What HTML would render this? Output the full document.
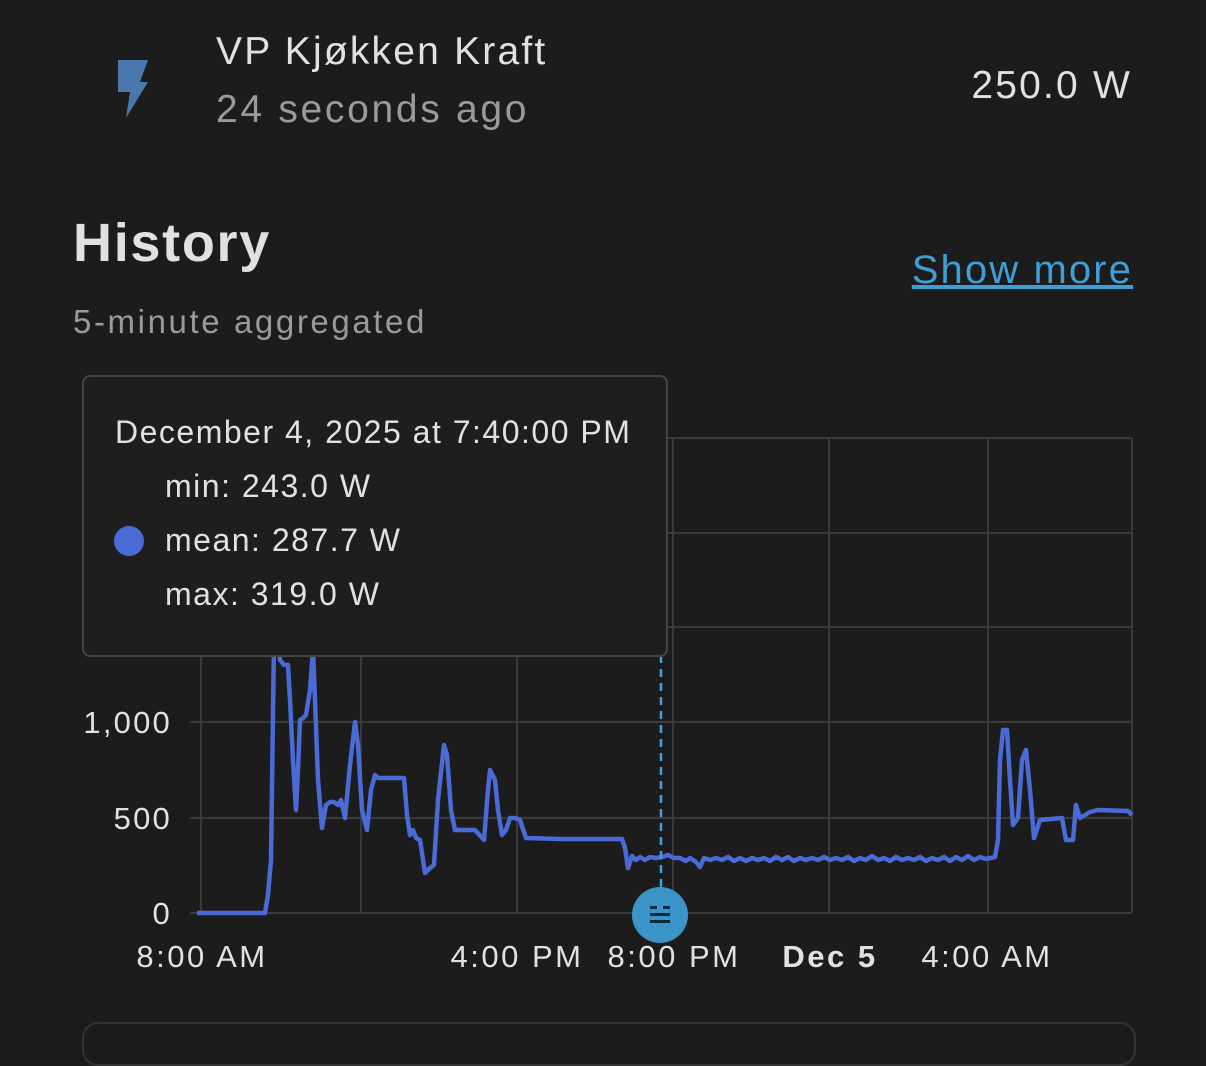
<!DOCTYPE html>
<html><head><meta charset="utf-8"><style>
body{margin:0;width:1206px;height:1030px;background:#1c1c1c;overflow:hidden;font-family:"Liberation Sans",sans-serif;position:relative}
.t{position:absolute;white-space:nowrap}
</style></head><body>
<svg class="t" style="left:112px;top:58px" width="40" height="62" viewBox="0 0 40 62"><polygon points="6,2 36,2 28,24 36,24 14,60 18,34 6,34" fill="#4a78ad"/></svg>
<div class="t" style="left:216px;top:30px;font-size:39px;color:#e1e1e1;letter-spacing:2.2px">VP Kjøkken Kraft</div>
<div class="t" style="left:216px;top:88px;font-size:39px;color:#9a9a9a;letter-spacing:2.7px">24 seconds ago</div>
<div class="t" style="right:74px;top:64px;font-size:39px;color:#e1e1e1;letter-spacing:2.2px">250.0 W</div>
<div class="t" style="left:73px;top:212px;font-size:54px;font-weight:bold;color:#e1e1e1;letter-spacing:1.7px">History</div>
<div class="t" style="right:73px;top:248px;font-size:40px;color:#3e9fd6;text-decoration:underline;letter-spacing:2.1px">Show more</div>
<div class="t" style="left:73px;top:303px;font-size:33px;color:#9a9a9a;letter-spacing:2.6px">5-minute aggregated</div>
<svg class="t" style="left:0;top:0" width="1206" height="1030">
<g stroke="#3a3a3a" stroke-width="2">
<line x1="190" y1="438" x2="1132" y2="438"/><line x1="190" y1="533" x2="1132" y2="533"/><line x1="190" y1="627" x2="1132" y2="627"/><line x1="190" y1="722" x2="1132" y2="722"/><line x1="190" y1="818" x2="1132" y2="818"/><line x1="190" y1="913" x2="1132" y2="913"/>
<line x1="201" y1="438" x2="201" y2="913"/><line x1="361" y1="438" x2="361" y2="913"/><line x1="517" y1="438" x2="517" y2="913"/><line x1="673" y1="438" x2="673" y2="913"/><line x1="829" y1="438" x2="829" y2="913"/><line x1="988" y1="438" x2="988" y2="913"/><line x1="1132" y1="438" x2="1132" y2="913"/>
</g>
<g font-size="31" fill="#e1e1e1" text-anchor="end" letter-spacing="2.2"><text x="172" y="733">1,000</text><text x="172" y="829">500</text><text x="172" y="924">0</text></g>
<g font-size="31" fill="#e1e1e1" text-anchor="middle" letter-spacing="2.5"><text x="202" y="967">8:00 AM</text><text x="517" y="967">4:00 PM</text><text x="674" y="967">8:00 PM</text><text x="830" y="967" font-weight="bold">Dec 5</text><text x="987" y="967">4:00 AM</text></g>
<polyline fill="none" stroke="#4a6ad6" stroke-width="4.5" stroke-linejoin="round" points="197,913 265,913 268,895 271,860 274,640 278,630 280,660 284,665 288,665 290,700 293,760 296,810 298,770 300,720 303,718 306,715 310,690 313,650 315,700 318,780 322,828 326,805 330,802 334,802 338,805 341,800 345,818 350,765 355,722 358,745 362,810 367,830 371,790 375,775 378,778 390,778 404,778 407,815 410,835 413,830 416,838 420,840 425,873 430,868 434,865 438,800 444,745 447,755 451,810 455,830 475,830 484,840 488,790 490,770 495,780 498,810 502,835 506,830 510,818 515,818 520,820 526,838 560,839 622,839 625,848 628,868 632,856 636,860 640,857 645,860 650,857 656,858 662,857 668,855 674,858 680,858 686,861 690,858 696,862 700,867 704,858 710,860 716,858 722,860 728,857 734,861 740,858 746,861 752,858 758,860 764,858 770,861 776,857 782,860 788,857 794,861 800,858 806,860 812,858 818,860 824,857 830,860 836,858 842,860 848,857 854,861 860,858 866,860 872,856 878,860 884,858 890,861 896,857 902,860 908,858 914,860 920,857 926,861 932,858 938,860 944,857 950,861 956,857 962,860 968,856 974,860 980,857 986,859 995,857 998,840 1000,760 1003,730 1007,730 1010,780 1013,825 1018,818 1022,760 1026,750 1030,790 1034,838 1040,820 1062,818 1066,840 1073,840 1076,805 1080,818 1090,812 1098,810 1128,811 1132,815"/>
<line x1="661" y1="655" x2="661" y2="892" stroke="#3fa0dc" stroke-width="2.5" stroke-dasharray="8,6"/>
<circle cx="660" cy="915" r="28" fill="#3a94c8"/>
<g fill="#102a3a"><rect x="650" y="906" width="7" height="3"/><rect x="663" y="906" width="7" height="3"/><rect x="650" y="913" width="20" height="3"/><rect x="650" y="920" width="20" height="3"/></g>
</svg>
<div class="t" style="left:82px;top:375px;width:582px;height:278px;background:#1e1e1e;border:2px solid #444;border-radius:8px"></div>
<div class="t" style="left:115px;top:414px;font-size:32px;color:#e1e1e1;letter-spacing:1.5px">December 4, 2025 at 7:40:00 PM</div>
<div class="t" style="left:165px;top:468px;font-size:32px;color:#e1e1e1;letter-spacing:1.5px">min: 243.0 W</div>
<div class="t" style="left:165px;top:522px;font-size:32px;color:#e1e1e1;letter-spacing:1.5px">mean: 287.7 W</div>
<div class="t" style="left:165px;top:576px;font-size:32px;color:#e1e1e1;letter-spacing:1.5px">max: 319.0 W</div>
<div class="t" style="left:114px;top:526px;width:30px;height:30px;border-radius:50%;background:#4a6ad6"></div>
<div class="t" style="left:82px;top:1022px;width:1050px;height:40px;border:2px solid #333;border-radius:16px"></div>
</body></html>
